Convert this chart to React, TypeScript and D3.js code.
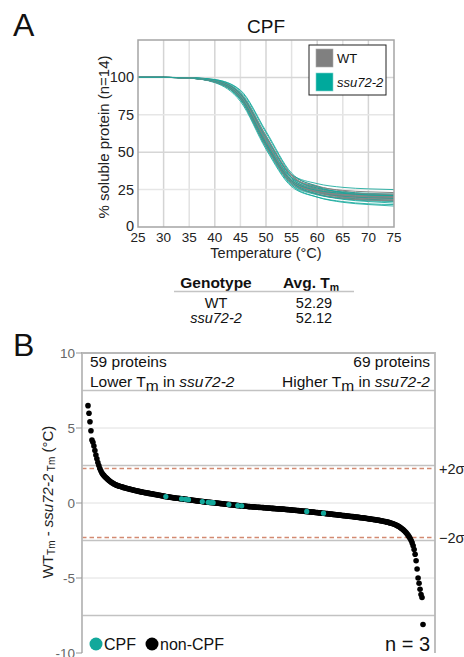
import React from 'react'
import * as d3 from 'd3'

// Panel A: melt curves, % soluble protein at each temperature
const temps = [25, 30, 35, 40, 45, 50, 55, 60, 65, 70, 75]

const wtCurves = [
  [100, 100, 99.6, 97.5, 87, 57, 31, 24, 21, 20, 19.5],
  [100, 100, 99.7, 98, 89, 60, 34, 26, 23, 22, 21.5],
  [100, 100, 99.5, 97, 85.5, 54, 29, 22, 19.5, 18.5, 18],
  [100, 100, 99.6, 97.6, 88, 58, 33, 27, 24.5, 23.5, 23],
  [100, 100, 99.5, 96.9, 85.5, 54, 30, 23, 20.5, 19.5, 19],
  [100, 100, 99.7, 98, 89, 60, 34, 26.5, 23, 21, 20],
  [100, 100, 99.6, 97.2, 86, 55, 30, 23.5, 21, 20, 20],
  [100, 100, 99.6, 97.4, 87, 56, 32, 25.5, 22.5, 21.5, 21],
  [100, 100, 99.5, 97, 86, 54, 29, 22, 19, 18, 17.5],
  [100, 100, 99.7, 98.1, 89.5, 61, 35, 27.5, 24, 22, 21],
  [100, 100, 99.6, 97.5, 87.5, 57, 31, 24, 21.5, 20.5, 20],
  [100, 100, 99.5, 97, 86, 55, 31, 25, 22, 21, 20.5],
  [100, 100, 99.6, 97.6, 88, 58, 31, 23, 20, 19, 18.5],
  [100, 100, 99.6, 97.3, 86.5, 56, 30.5, 24, 22, 22, 22],
]

const mutCurves = [
  [100, 100, 99.8, 98.5, 91, 63, 35, 25, 21, 19.5, 19],
  [100, 100, 99.5, 96.5, 84, 52, 27, 20, 17, 15.5, 15],
  [100, 100, 99.7, 98, 89, 60, 35, 29, 26.5, 25.5, 25],
  [100, 100, 99.6, 97.5, 87, 55, 28, 20, 16.5, 15, 14],
  [100, 100, 99.6, 97.3, 86.5, 56, 31, 24, 21.5, 20.5, 20],
  [100, 100, 99.7, 98.2, 90, 61, 33, 24, 20, 18.5, 18],
  [100, 100, 99.5, 97, 86, 54, 29, 22, 19, 17.5, 17],
  [100, 100, 99.6, 97.8, 88.5, 58, 32, 25, 22, 21, 20.5],
  [100, 100, 99.5, 96.8, 85, 53, 28, 21.5, 19, 18, 17.5],
  [100, 100, 99.7, 98, 89, 59, 33, 26, 23.5, 22.5, 22],
  [100, 100, 99.6, 97.5, 87.5, 57, 30, 22, 18.5, 17, 16],
  [100, 100, 99.8, 98.6, 91.5, 64, 36, 27, 23, 21.5, 21],
  [100, 100, 99.5, 97.1, 86, 55, 30, 23, 20.5, 19.5, 19],
  [100, 100, 99.6, 97.4, 87, 56, 31, 24.5, 22.5, 21.5, 21],
]

const genotypes = ['WT', 'ssu72-2']
const avgTm = ['52.29', '52.12']

// Panel B: WT Tm - ssu72-2 Tm, sorted (sampled along rank)
const deltaTm = [
  6.49, 5.98, 5.42, 4.82, 4.20, 4.05, 3.80, 3.50, 3.20, 2.95,
  2.70, 2.50, 2.30, 2.15, 2.02, 1.92, 1.84, 1.76, 1.70, 1.64,
  1.58, 1.52, 1.46, 1.41, 1.37, 1.33, 1.29, 1.25, 1.22, 1.19,
  1.17, 1.14, 1.12, 1.10, 1.08, 1.06, 1.04, 1.02, 1.00, 0.98,
  0.96, 0.95, 0.93, 0.91, 0.90, 0.88, 0.86, 0.85, 0.83, 0.82,
  0.80, 0.79, 0.77, 0.76, 0.74, 0.73, 0.72, 0.70, 0.69, 0.68,
  0.67, 0.66, 0.64, 0.63, 0.62, 0.61, 0.60, 0.58, 0.57, 0.56,
  0.55, 0.53, 0.52, 0.51, 0.50, 0.48, 0.47, 0.46, 0.44, 0.43,
  0.42, 0.41, 0.40, 0.39, 0.38, 0.37, 0.36, 0.35, 0.34, 0.33,
  0.32, 0.32, 0.31, 0.30, 0.29, 0.28, 0.27, 0.27, 0.26, 0.25,
  0.24, 0.23, 0.22, 0.21, 0.20, 0.19, 0.18, 0.18, 0.17, 0.16,
  0.15, 0.14, 0.13, 0.12, 0.12, 0.11, 0.10, 0.09, 0.08, 0.08,
  0.07, 0.06, 0.05, 0.05, 0.04, 0.03, 0.03, 0.02, 0.01, 0.01,
  0.00, -0.01, -0.02, -0.02, -0.03, -0.04, -0.05, -0.05, -0.06, -0.07,
  -0.08, -0.08, -0.09, -0.10, -0.11, -0.11, -0.12, -0.13, -0.14, -0.14,
  -0.15, -0.16, -0.17, -0.17, -0.18, -0.19, -0.19, -0.20, -0.21, -0.21,
  -0.22, -0.22, -0.23, -0.24, -0.24, -0.25, -0.25, -0.26, -0.26, -0.27,
  -0.27, -0.28, -0.28, -0.29, -0.29, -0.30, -0.30, -0.31, -0.31, -0.32,
  -0.32, -0.33, -0.33, -0.34, -0.34, -0.35, -0.35, -0.36, -0.36, -0.37,
  -0.37, -0.38, -0.38, -0.39, -0.39, -0.40, -0.40, -0.41, -0.41, -0.42,
  -0.42, -0.43, -0.43, -0.44, -0.45, -0.45, -0.46, -0.47, -0.47, -0.48,
  -0.48, -0.49, -0.50, -0.50, -0.51, -0.52, -0.52, -0.53, -0.54, -0.54,
  -0.55, -0.56, -0.56, -0.57, -0.58, -0.59, -0.59, -0.60, -0.61, -0.61,
  -0.62, -0.63, -0.63, -0.64, -0.65, -0.66, -0.66, -0.67, -0.68, -0.68,
  -0.69, -0.70, -0.71, -0.71, -0.72, -0.73, -0.74, -0.74, -0.75, -0.76,
  -0.77, -0.77, -0.78, -0.79, -0.80, -0.81, -0.81, -0.82, -0.83, -0.84,
  -0.84, -0.85, -0.86, -0.87, -0.87, -0.88, -0.89, -0.90, -0.90, -0.91,
  -0.92, -0.93, -0.94, -0.94, -0.95, -0.96, -0.97, -0.98, -0.98, -0.99,
  -1.00, -1.01, -1.02, -1.03, -1.04, -1.05, -1.06, -1.07, -1.08, -1.09,
  -1.10, -1.11, -1.12, -1.13, -1.14, -1.15, -1.16, -1.18, -1.19, -1.20,
  -1.22, -1.23, -1.24, -1.26, -1.27, -1.29, -1.31, -1.33, -1.35, -1.37,
  -1.40, -1.42, -1.45, -1.48, -1.51, -1.55, -1.59, -1.63, -1.68, -1.73,
  -1.79, -1.85, -1.92, -1.99, -2.07, -2.16, -2.26, -2.37, -2.50, -2.66,
  -2.85, -3.10, -3.42, -3.85, -4.40, -5.00, -5.35, -5.75, -6.10, -6.30,
  -8.10,
]

// positions (in deltaTm) of the CPF subunits
const cpfIndex = [79, 95, 99, 102, 116, 122, 125, 127, 143, 152, 156, 222, 239]
const twoSigma = 2.3
const countLower = 59
const countHigher = 69
const replicates = 3

const font = 'Liberation Sans, Arial, Helvetica, sans-serif'
const grey = '#858585'
const teal = '#12a89b'

const App = () => {
  // ---- panel A scales
  const xA = d3.scaleLinear().domain([25, 75]).range([138, 394])
  const yA = d3.scaleLinear().domain([0, 125]).range([227, 40])
  const curve = d3.line<number>()
    .x((_, i) => xA(temps[i]))
    .y(d => yA(d))
    .curve(d3.curveMonotoneX)

  // ---- panel B scales
  const xB = d3.scaleLinear().domain([0, deltaTm.length - 1]).range([88, 423])
  const yB = d3.scaleLinear().domain([-10, 10]).range([653, 353])
  const bLeft = 82
  const bRight = 435

  // alternate drawing order so both genotypes show through the bundle
  const layered = wtCurves.flatMap((w, i) => {
    const a = { d: w, c: grey, k: 'w' + i }
    const b = { d: mutCurves[i], c: teal, k: 'm' + i }
    return i % 2 === 0 ? [b, a] : [a, b]
  })

  return (
    <svg width={464} height={657} style={{ position: 'absolute', left: 0, top: 0 }}
      fontFamily={font}>
      <rect width={464} height={657} fill="#fff" />

      {/* ================= A ================= */}
      <text x={13} y={36} fontSize={32} fill="#111">A</text>
      <text x={266} y={33} fontSize={19} textAnchor="middle" fill="#111">CPF</text>

      {d3.range(30, 75, 5).map(t => (
        <line key={'vx' + t} x1={xA(t)} x2={xA(t)} y1={40} y2={227}
          stroke={t % 10 === 0 ? '#d4d4d4' : '#e2e2e2'} strokeWidth={1.5} />
      ))}
      {[25, 50, 75, 100].map(v => (
        <line key={'hy' + v} x1={138} x2={394} y1={yA(v)} y2={yA(v)}
          stroke={v % 50 === 0 ? '#d6d6d6' : '#e6e6e6'} strokeWidth={1.5} />
      ))}

      <g fill="none">
        {layered.map(l => (
          <path key={l.k} d={curve(l.d) || ''} stroke={l.c} strokeWidth={l.c === grey ? 1 : 0.85} />
        ))}
      </g>

      <rect x={138} y={40} width={256} height={187} fill="none" stroke="#a5a5a5" strokeWidth={1.5} />

      {[0, 25, 50, 75, 100].map(v => (
        <text key={'ya' + v} x={134} y={yA(v) - (v === 0 ? 1 : 0)} dy="0.35em" textAnchor="end" fontSize={14.5} fill="#222">{v}</text>
      ))}
      {d3.range(25, 80, 5).map(t => (
        <text key={'xa' + t} x={xA(t)} y={242} textAnchor="middle" fontSize={13.5} fill="#222">{t}</text>
      ))}
      <text x={266} y={258} textAnchor="middle" fontSize={14.5} fill="#222">Temperature (°C)</text>
      <text transform="translate(109,137) rotate(-90)" textAnchor="middle" fontSize={15} fill="#222">
        % soluble protein (n=14)
      </text>

      {/* legend */}
      <rect x={309} y={45} width={77} height={50} fill="#fff" stroke="#222" strokeWidth={1} />
      <rect x={316} y={49} width={17} height={18} fill="#808080" stroke="#aaa" strokeWidth={0.6} />
      <rect x={316} y={73} width={17} height={18} fill="#00a99c" stroke="#7fd4cd" strokeWidth={0.6} />
      <text x={337} y={63} fontSize={13} fill="#111">{genotypes[0]}</text>
      <text x={337} y={87} fontSize={13} fontStyle="italic" fill="#111">{genotypes[1]}</text>

      {/* Tm table */}
      <text x={216} y={288} textAnchor="middle" fontSize={15.5} fontWeight="bold" fill="#111">Genotype</text>
      <text x={311} y={288} textAnchor="middle" fontSize={15.5} fontWeight="bold" fill="#111">
        Avg. T<tspan fontSize={10.5} dy={3}>m</tspan>
      </text>
      <line x1={174} x2={354} y1={291.5} y2={291.5} stroke="#c4c4c4" strokeWidth={1.5} />
      {genotypes.map((g, i) => (
        <g key={'row' + g}>
          <text x={216} y={307.5 + i * 15.5} textAnchor="middle" fontSize={14.5}
            fontStyle={i === 1 ? 'italic' : 'normal'} fill="#111">{g}</text>
          <text x={314} y={307.5 + i * 15.5} textAnchor="middle" fontSize={14.5} fill="#111">{avgTm[i]}</text>
        </g>
      ))}

      {/* ================= B ================= */}
      <text x={13} y={356} fontSize={32} fill="#111">B</text>

      {[-7.5, -5, -2.5, 0, 2.5, 5, 7.5].map(v => (
        <line key={'gb' + v} x1={bLeft} x2={bRight} y1={yB(v)} y2={yB(v)}
          stroke={Math.abs(v) % 5 === 2.5 ? '#c2c2c2' : '#e0e0e0'}
          strokeWidth={Math.abs(v) % 5 === 2.5 ? 1.5 : 1} />
      ))}
      {[twoSigma, -twoSigma].map(v => (
        <line key={'sd' + v} x1={bLeft} x2={bRight} y1={yB(v)} y2={yB(v)}
          stroke="#d38a72" strokeWidth={1.4} strokeDasharray="4.5,3" />
      ))}

      <path d={`M${bLeft},${yB(-10)}V${yB(10)}H${bRight}V${yB(-10)}`} fill="none" stroke="#b8b8b8" strokeWidth={1.8} />
      {[-10, -5, 0, 5, 10].map(v => (
        <g key={'yb' + v}>
          <line x1={bLeft - 6} x2={bLeft} y1={yB(v)} y2={yB(v)} stroke="#999" strokeWidth={1} />
          <text x={bLeft - 7} y={yB(v)} dy="0.35em" textAnchor="end" fontSize={13.5} fill="#666">{v}</text>
        </g>
      ))}

      {deltaTm.map((d, i) => (
        <circle key={'p' + i} cx={xB(i)} cy={yB(d)} r={2.8} fill="#000" />
      ))}
      {cpfIndex.map(i => (
        <circle key={'cpf' + i} cx={xB(i)} cy={yB(deltaTm[i])} r={2.6} fill={teal} />
      ))}

      <text x={439} y={yB(twoSigma)} dy="0.35em" fontSize={14.5} fill="#222">+2σ</text>
      <text x={439} y={yB(-twoSigma)} dy="0.35em" fontSize={14.5} fill="#222">−2σ</text>

      <text x={90} y={367} fontSize={15.5} fill="#111">{countLower} proteins</text>
      <text x={90} y={387} fontSize={15.5} fill="#111">
        Lower T<tspan dy={4}>m</tspan><tspan dy={-4}> in </tspan><tspan fontStyle="italic">ssu72-2</tspan>
      </text>
      <text x={430} y={367} textAnchor="end" fontSize={15.5} fill="#111">{countHigher} proteins</text>
      <text x={430} y={387} textAnchor="end" fontSize={15.5} fill="#111">
        Higher T<tspan dy={4}>m</tspan><tspan dy={-4}> in </tspan><tspan fontStyle="italic">ssu72-2</tspan>
      </text>

      <text transform="translate(53,502) rotate(-90)" textAnchor="middle" fontSize={15} fill="#222">
        WT<tspan fontSize={10} dy={2}>Tm</tspan><tspan dy={-2}> - </tspan>
        <tspan fontStyle="italic">ssu72-2</tspan><tspan fontSize={10} dy={2}> Tm</tspan><tspan dy={-2}> (°C)</tspan>
      </text>

      {/* legend B */}
      <circle cx={96} cy={644} r={6.5} fill={teal} />
      <text x={104} y={650} fontSize={16} fill="#111">CPF</text>
      <circle cx={152} cy={644} r={6.5} fill="#000" />
      <text x={160} y={650} fontSize={16} fill="#111">non-CPF</text>
      <text x={430} y={651} textAnchor="end" fontSize={20} fill="#111">n = {replicates}</text>
    </svg>
  )
}

export default App
